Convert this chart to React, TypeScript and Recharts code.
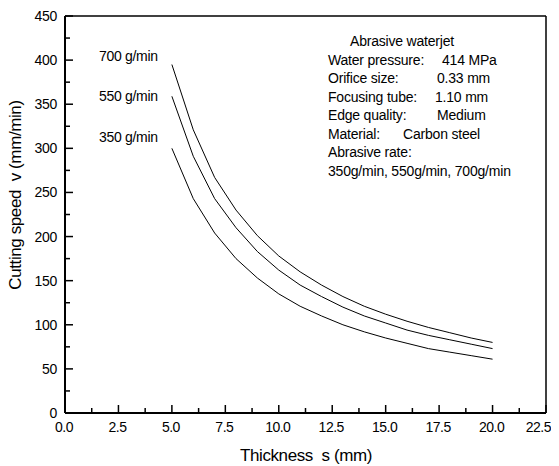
import { LineChart, Line, XAxis, YAxis, ReferenceLine } from 'recharts';

// thickness s (mm)
const thickness = [5, 6, 7, 8, 9, 10, 11, 12, 13, 14, 15, 16, 17, 18, 19, 20];
// cutting speed v (mm/min) for each abrasive rate
const rate350 = [300, 243, 204, 175, 153, 135, 121, 110, 100, 92, 85, 79, 73, 69, 65, 61];
const rate550 = [359, 291, 243, 210, 183, 162, 145, 132, 120, 110, 102, 94, 88, 83, 78, 73];
const rate700 = [395, 321, 267, 230, 201, 178, 160, 145, 132, 121, 112, 104, 97, 91, 85, 80];

const xTicks = [0, 1.25, 2.5, 3.75, 5, 6.25, 7.5, 8.75, 10, 11.25, 12.5, 13.75, 15, 16.25, 17.5, 18.75, 20, 21.25, 22.5];
const yTicks = [0, 25, 50, 75, 100, 125, 150, 175, 200, 225, 250, 275, 300, 325, 350, 375, 400, 425, 450];

const infoLines = [
  ['Abrasive waterjet', ''],
  ['Water pressure:', '414 MPa'],
  ['Orifice size:', '0.33 mm'],
  ['Focusing tube:', '1.10 mm'],
  ['Edge quality:', 'Medium'],
  ['Material:', 'Carbon steel'],
  ['Abrasive rate:', ''],
  ['350g/min, 550g/min, 700g/min', ''],
];
const valueLeft = [0, 434, 429, 427, 429, 395, 0, 0];

const rows = thickness.map((s, i) => ({ s, r350: rate350[i], r550: rate550[i], r700: rate700[i] }));

const FONT = '"Liberation Sans", Arial, sans-serif';

const isMajor = (v: number, step: number) => Math.abs(v / step - Math.round(v / step)) < 1e-6;

const XTick = (props: any) => {
  const { x, y, payload } = props;
  const major = isMajor(payload.value, 2.5);
  const last = payload.value === 22.5;
  return (
    <g>
      <line x1={x} x2={x} y1={y} y2={y - (major ? 8 : 5)} stroke="#000" strokeWidth={1.5} />
      {major && (
        <text
          x={last ? x + 5 : x - 1}
          y={y + 19}
          textAnchor={last ? 'end' : 'middle'}
          fontSize={14}
          fontFamily={FONT}
          fill="#000"
          letterSpacing={-0.5}
        >
          {payload.value.toFixed(1)}
        </text>
      )}
    </g>
  );
};

const YTick = (props: any) => {
  const { x, y, payload } = props;
  const major = isMajor(payload.value, 50);
  return (
    <g>
      <line x1={x} x2={x + (major ? 8 : 5)} y1={y} y2={y} stroke="#000" strokeWidth={1.5} />
      {major && (
        <text x={x - 8} y={y + 5} textAnchor="end" fontSize={14} fontFamily={FONT} fill="#000" letterSpacing={-0.3}>
          {payload.value}
        </text>
      )}
    </g>
  );
};

export default function App() {
  return (
    <div style={{ position: 'relative', width: 543, height: 458, fontFamily: FONT, color: '#000' }}>
      <LineChart width={543} height={458} data={rows} margin={{ top: 8, right: 5, left: 0, bottom: 0 }}>
        <XAxis
          type="number"
          dataKey="s"
          domain={[0, 22.5]}
          ticks={xTicks}
          interval={0}
          height={53}
          tickSize={0}
          tickMargin={0}
          tickLine={false}
          axisLine={{ stroke: '#000', strokeWidth: 2 }}
          tick={<XTick />}
        />
        <YAxis
          type="number"
          domain={[0, 450]}
          ticks={yTicks}
          interval={0}
          width={57}
          tickSize={0}
          tickMargin={0}
          tickLine={false}
          axisLine={{ stroke: '#000', strokeWidth: 2 }}
          tick={<YTick />}
        />
        <ReferenceLine y={450} stroke="#000" strokeWidth={1.5} />
        <ReferenceLine x={22.5} stroke="#000" strokeWidth={1.5} />
        <Line type="linear" dataKey="r350" stroke="#000" strokeWidth={1} dot={false} isAnimationActive={false} />
        <Line type="linear" dataKey="r550" stroke="#000" strokeWidth={1} dot={false} isAnimationActive={false} />
        <Line type="linear" dataKey="r700" stroke="#000" strokeWidth={1} dot={false} isAnimationActive={false} />
      </LineChart>

      {/* curve labels */}
      <div style={{ position: 'absolute', left: 91, top: 40, fontSize: 14, whiteSpace: 'pre', letterSpacing: -0.3 }}>700 g/min</div>
      <div style={{ position: 'absolute', left: 91, top: 80, fontSize: 14, whiteSpace: 'pre', letterSpacing: -0.3 }}>550 g/min</div>
      <div style={{ position: 'absolute', left: 91, top: 121, fontSize: 14, whiteSpace: 'pre', letterSpacing: -0.3 }}>350 g/min</div>

      {/* test conditions */}
      {infoLines.map(([label, value], i) => (
        <div key={i}>
          <div
            style={{
              position: 'absolute',
              left: i === 0 ? 342 : 320,
              top: 25 + i * 18.5,
              fontSize: 14,
              lineHeight: '16px',
              whiteSpace: 'pre',
              letterSpacing: -0.2,
            }}
          >
            {label}
          </div>
          {value && (
            <div
              style={{
                position: 'absolute',
                left: valueLeft[i],
                top: 25 + i * 18.5,
                fontSize: 14,
                lineHeight: '16px',
                whiteSpace: 'pre',
                letterSpacing: -0.2,
              }}
            >
              {value}
            </div>
          )}
        </div>
      ))}

      {/* axis titles */}
      <div
        style={{
          position: 'absolute',
          left: 218,
          top: 438,
          width: 160,
          textAlign: 'center',
          fontSize: 17,
          lineHeight: '20px',
          whiteSpace: 'pre',
          letterSpacing: -0.4,
        }}
      >
        Thickness  s (mm)
      </div>
      <div
        style={{
          position: 'absolute',
          left: 8,
          top: 187,
          fontSize: 17,
          lineHeight: '20px',
          whiteSpace: 'pre',
          letterSpacing: -0.4,
          transform: 'translate(-50%, -50%) rotate(-90deg)',
        }}
      >
        Cutting speed  v (mm/min)
      </div>
    </div>
  );
}
